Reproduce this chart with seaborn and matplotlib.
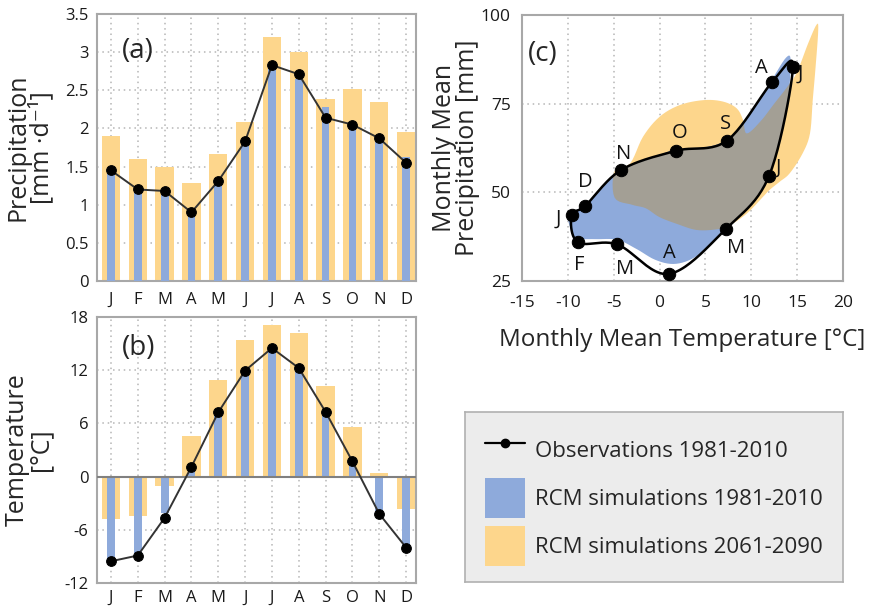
import numpy as np
import pandas as pd
import matplotlib
matplotlib.use("Agg")
import matplotlib.pyplot as plt
from matplotlib.patches import Polygon, Patch
from matplotlib.lines import Line2D
import seaborn as sns

# ---------------- data ----------------
months = ["J", "F", "M", "A", "M", "J", "J", "A", "S", "O", "N", "D"]

precip_obs = [1.45, 1.20, 1.18, 0.90, 1.31, 1.83, 2.83, 2.71, 2.14, 2.05, 1.87, 1.55]
precip_rcm_hist = [1.42, 1.20, 1.15, 0.88, 1.30, 1.80, 2.80, 2.65, 2.28, 2.03, 1.85, 1.63]
precip_rcm_fut = [1.90, 1.60, 1.50, 1.29, 1.66, 2.08, 3.20, 3.00, 2.39, 2.52, 2.34, 1.95]

temp_obs = [-9.55, -8.9, -4.65, 1.1, 7.25, 11.95, 14.5, 12.25, 7.3, 1.72, -4.2, -8.0]
temp_rcm_hist = [-9.36, -8.6, -4.1, 0.9, 7.0, 11.9, 14.3, 12.1, 7.2, 1.5, -3.9, -7.85]
temp_rcm_fut = [-4.77, -4.4, -1.09, 4.55, 10.86, 15.4, 17.1, 16.2, 10.26, 5.6, 0.35, -3.6]

# panel (c): observed climograph (temperature, monthly precipitation in mm)
clim_temp = [-9.6, -8.9, -4.6, 1.0, 7.2, 11.95, 14.55, 12.3, 7.3, 1.75, -4.2, -8.1]
clim_precip = [43.6, 35.9, 35.3, 27.0, 39.6, 54.7, 85.4, 81.2, 64.5, 61.7, 56.3, 46.2]
# month label positions in panel (c)
lab_temp = [-11.0, -8.8, -3.75, 1.07, 8.3, 12.9, 15.4, 11.1, 7.2, 2.2, -3.9, -8.1]
lab_precip = [42.7, 29.5, 28.3, 32.8, 34.2, 56.8, 83.5, 85.0, 69.3, 66.6, 60.8, 53.0]

# RCM 1981-2010 envelope (outline vertices)
hist_env_temp = [-9.9, -9.6, -9.2, -7.0, -4.6, -2.5, -0.5, 1.5, 3.5, 5.5, 7.3, 9.5,
                 11.9, 13.2, 14.0, 14.3, 13.8, 12.3, 10.0, 7.3, 4.5, 1.7, -1.0, -4.2,
                 -6.5, -8.1]
hist_env_precip = [43.5, 39.0, 37.0, 36.8, 36.6, 34.0, 31.0, 29.8, 31.2, 35.0, 40.0, 45.5,
                   54.5, 65.0, 76.0, 87.0, 88.0, 82.0, 72.5, 64.8, 62.5, 62.0, 59.5, 56.5,
                   51.0, 46.5]
# RCM 2061-2090 envelope (outline vertices)
fut_env_temp = [-4.9, -4.9, -3.2, -1.8, 0.0, 2.2, 4.8, 6.9, 8.4, 9.1, 9.5, 11.0, 12.5,
                14.0, 15.0, 16.2, 17.1, 17.3, 17.0, 16.7, 16.4, 15.6, 14.2, 13.1, 12.0,
                11.3, 9.5, 7.5, 6.0, 4.0, 2.0, 0.0, -1.5, -3.0]
fut_env_precip = [48.5, 56.0, 58.2, 65.7, 71.3, 74.6, 76.0, 75.6, 73.7, 70.4, 66.6, 70.0,
                  75.0, 80.0, 84.0, 92.0, 97.2, 95.8, 85.0, 76.0, 66.6, 61.0, 55.4, 53.0,
                  50.7, 48.8, 44.0, 40.5, 39.5, 39.4, 41.0, 43.0, 45.5, 46.5]

legend_labels = ["Observations 1981-2010", "RCM simulations 1981-2010",
                 "RCM simulations 2061-2090"]

# ---------------- style ----------------
BLUE = "#8eaadb"
ORANGE = "#fdd68c"
GRAY = "#a39f95"
SPINE = "#a8a8a8"
GRID = "#b5b5b5"

sns.set_style("white")
plt.rcParams["font.family"] = ["Open Sans", "DejaVu Sans"]
plt.rcParams["axes.unicode_minus"] = False

fig = plt.figure(figsize=(8.69, 6.08), dpi=100)
W, H = 869, 608


def add_axes(l, t, r, b):
    return fig.add_axes([l / W, 1 - b / H, (r - l) / W, (b - t) / H])


def style_axes(ax, tick_size=12, xpad=4):
    for s in ax.spines.values():
        s.set_color(SPINE)
        s.set_linewidth(1.5)
    ax.tick_params(axis="both", direction="out", length=3, width=1, color=SPINE,
                   labelsize=tick_size, colors="#1a1a1a")
    ax.tick_params(axis="x", pad=xpad)
    ax.tick_params(axis="y", pad=3)
    ax.set_axisbelow(True)
    ax.grid(True, linestyle=(0, (1, 2.5)), color=GRID, linewidth=1.1)


def closed_curve(xs, ys, n=20):
    P = np.column_stack([xs, ys]).astype(float)
    N = len(P)
    t = np.linspace(0, 1, n, endpoint=False)[:, None]
    segs = []
    for i in range(N):
        p0, p1, p2, p3 = P[(i - 1) % N], P[i], P[(i + 1) % N], P[(i + 2) % N]
        seg = 0.5 * ((2 * p1) + (-p0 + p2) * t + (2 * p0 - 5 * p1 + 4 * p2 - p3) * t ** 2
                     + (-p0 + 3 * p1 - 3 * p2 + p3) * t ** 3)
        segs.append(seg)
    segs.append(P[:1])
    return np.vstack(segs)


idx = np.arange(len(months))

# ---------------- panel (a) ----------------
axa = add_axes(97, 14, 416, 281)
dfa = pd.DataFrame({"m": idx, "obs": precip_obs, "hist": precip_rcm_hist,
                    "fut": precip_rcm_fut})
sns.barplot(data=dfa, x="m", y="fut", color=ORANGE, saturation=1, width=0.68,
            linewidth=0, ax=axa, zorder=2)
sns.barplot(data=dfa, x="m", y="hist", color=BLUE, saturation=1, width=0.29,
            linewidth=0, ax=axa, zorder=3)
sns.lineplot(data=dfa, x="m", y="obs", color="#333333", linewidth=1.4, marker="o",
             markersize=7, markerfacecolor="black", markeredgecolor="black",
             ax=axa, zorder=4)
style_axes(axa, xpad=5)
axa.set_xlim(-0.52, 11.37)
axa.set_ylim(0, 3.5)
axa.set_yticks([0, 0.5, 1, 1.5, 2, 2.5, 3, 3.5])
axa.set_yticklabels(["0", "0.5", "1", "1.5", "2", "2.5", "3", "3.5"])
axa.set_xticks(idx)
axa.set_xticklabels(months)
axa.set_xlabel("")
axa.set_ylabel("Precipitation\n[mm ·d⁻¹]", fontsize=18, linespacing=0.9)
axa.yaxis.set_label_coords(-0.135, 0.5)
axa.text(0.129, 0.861, "(a)", transform=axa.transAxes, fontsize=20, ha="center",
         va="center")

# ---------------- panel (b) ----------------
axb = add_axes(97, 317, 416, 583)
dfb = pd.DataFrame({"m": idx, "obs": temp_obs, "hist": temp_rcm_hist,
                    "fut": temp_rcm_fut})
sns.barplot(data=dfb, x="m", y="fut", color=ORANGE, saturation=1, width=0.68,
            linewidth=0, ax=axb, zorder=2)
sns.barplot(data=dfb, x="m", y="hist", color=BLUE, saturation=1, width=0.29,
            linewidth=0, ax=axb, zorder=3)
axb.axhline(0, color="#808080", linewidth=1.5, zorder=3.5)
sns.lineplot(data=dfb, x="m", y="obs", color="#333333", linewidth=1.4, marker="o",
             markersize=7, markerfacecolor="black", markeredgecolor="black",
             ax=axb, zorder=4)
style_axes(axb, xpad=2)
axb.set_xlim(-0.52, 11.37)
axb.set_ylim(-12, 18)
axb.set_yticks([-12, -6, 0, 6, 12, 18])
axb.set_xticks(idx)
axb.set_xticklabels(months)
axb.set_xlabel("")
axb.set_ylabel("Temperature\n[°C]", fontsize=18, linespacing=0.9)
axb.yaxis.set_label_coords(-0.138, 0.5)
axb.text(0.129, 0.883, "(b)", transform=axb.transAxes, fontsize=20, ha="center",
         va="center")

# ---------------- panel (c) ----------------
axc = add_axes(522, 15, 843, 281)
style_axes(axc, tick_size=12.5, xpad=7)
axc.tick_params(axis="y", pad=5)
axc.set_xlim(-15, 20)
axc.set_ylim(25, 100)
axc.set_xticks([-15, -10, -5, 0, 5, 10, 15, 20])
axc.set_yticks([25, 50, 75, 100])

fut_xy = closed_curve(fut_env_temp, fut_env_precip, n=6)
hist_xy = closed_curve(hist_env_temp, hist_env_precip, n=6)
fut_patch = Polygon(fut_xy, closed=True, facecolor=ORANGE, edgecolor="none", zorder=2)
hist_patch = Polygon(hist_xy, closed=True, facecolor=BLUE, edgecolor="none", zorder=2.1)
overlap = Polygon(fut_xy, closed=True, facecolor=GRAY, edgecolor="none", zorder=2.2)
axc.add_patch(fut_patch)
axc.add_patch(hist_patch)
axc.add_patch(overlap)
overlap.set_clip_path(hist_patch)

loop = closed_curve(clim_temp, clim_precip, n=24)
sns.lineplot(x=loop[:, 0], y=loop[:, 1], sort=False, estimator=None, color="black",
             linewidth=1.8, ax=axc, zorder=3)
sns.scatterplot(x=clim_temp, y=clim_precip, color="black", s=80, edgecolor="black",
                ax=axc, zorder=4)
for lt, lp, m in zip(lab_temp, lab_precip, months):
    axc.text(lt, lp, m, fontsize=14.5, ha="center", va="center", color="#111111",
             zorder=5)
axc.set_xlabel("Monthly Mean Temperature [°C]", fontsize=17.5)
axc.xaxis.set_label_coords(0.5, -0.175)
axc.set_ylabel("Monthly Mean\nPrecipitation [mm]", fontsize=18, linespacing=0.9)
axc.yaxis.set_label_coords(-0.131, 0.5)
axc.text(0.065, 0.853, "(c)", transform=axc.transAxes, fontsize=20, ha="center",
         va="center")

# ---------------- legend ----------------
axl = add_axes(465, 412, 843, 582)
axl.set_facecolor("#ececec")
axl.set_xticks([])
axl.set_yticks([])
for s in axl.spines.values():
    s.set_color("#b0b0b0")
    s.set_linewidth(1.2)
handles = [
    Line2D([0], [0], color="black", linewidth=1.6, marker="o", markersize=6),
    Patch(facecolor=BLUE, edgecolor="none"),
    Patch(facecolor=ORANGE, edgecolor="none"),
]
axl.legend(handles, legend_labels, loc="center left", bbox_to_anchor=(0.053, 0.494),
           frameon=False, fontsize=16, handlelength=1.8, handleheight=2.4,
           labelspacing=0.36, handletextpad=0.45, borderpad=0, borderaxespad=0)

fig.savefig("out.png", dpi=100)
